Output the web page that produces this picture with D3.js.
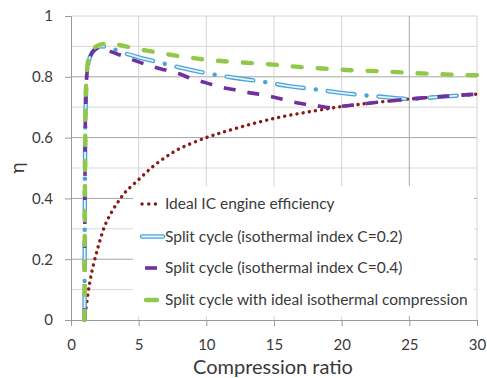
<!DOCTYPE html>
<html>
<head>
<meta charset="utf-8">
<script src="https://cdn.jsdelivr.net/npm/d3@7"></script>
<style>
  html, body { margin: 0; padding: 0; background: #fff; }
  svg { display: block; }
  text { font-family: Lato, "Open Sans", sans-serif; fill: #3a3a3a; }
</style>
</head>
<body>
<svg id="chart" width="487" height="378"></svg>
<script>
// Efficiency vs compression ratio
const xTicks = [0, 5, 10, 15, 20, 25, 30];
const yTicks = [0, 0.2, 0.4, 0.6, 0.8, 1];
const yMinor = [0.1, 0.3, 0.5, 0.7, 0.9];

const icRatio = [1, 1.25, 1.5, 2, 2.5, 3, 3.5, 4, 5, 6, 7, 8, 10, 12, 15, 18, 20, 22, 25, 28, 30];
const icEff   = [0, 0.085, 0.15, 0.24, 0.31, 0.355, 0.39, 0.42, 0.462, 0.503, 0.536, 0.563, 0.60, 0.628, 0.663, 0.688, 0.702, 0.713, 0.727, 0.737, 0.743];

const c02Ratio = [1, 1.03, 1.08, 1.2, 1.4, 1.7, 2.2, 3, 4, 5, 6, 7, 8, 9, 10, 12, 14, 16, 18, 20, 22, 24, 25, 27, 30];
const c02Eff   = [0, 0.45, 0.7, 0.82, 0.865, 0.888, 0.9, 0.893, 0.877, 0.864, 0.853, 0.842, 0.831, 0.821, 0.812, 0.797, 0.785, 0.77, 0.759, 0.747, 0.738, 0.73, 0.727, 0.733, 0.743];

const c04Ratio = [1, 1.03, 1.08, 1.2, 1.4, 1.7, 2.1, 3, 4, 5, 6, 7, 8, 9, 10, 11, 12, 13, 14, 15, 16, 17, 18, 19.2, 20, 22, 25, 28, 30];
const c04Eff   = [0, 0.45, 0.7, 0.82, 0.865, 0.887, 0.895, 0.882, 0.865, 0.849, 0.834, 0.822, 0.81, 0.792, 0.78, 0.767, 0.758, 0.749, 0.742, 0.733, 0.722, 0.712, 0.706, 0.699, 0.703, 0.713, 0.727, 0.737, 0.743];

const isoRatio = [1, 1.03, 1.08, 1.15, 1.3, 1.6, 2, 2.75, 3.5, 5, 6.5, 8, 10, 12, 15, 17, 19, 21, 23, 25, 27, 29, 30];
const isoEff   = [0, 0.45, 0.7, 0.8, 0.86, 0.89, 0.903, 0.91, 0.905, 0.891, 0.879, 0.868, 0.856, 0.849, 0.84, 0.832, 0.826, 0.821, 0.818, 0.813, 0.809, 0.806, 0.805];

const seriesNames = [
  "Ideal IC engine efficiency",
  "Split cycle (isothermal index C=0.2)",
  "Split cycle (isothermal index C=0.4)",
  "Split cycle with ideal isothermal compression"
];

const svg = d3.select("#chart");
const m = { left: 71, right: 477, top: 16, bottom: 320 };

const x = d3.scaleLinear().domain([0, 30]).range([m.left, m.right]);
const y = d3.scaleLinear().domain([0, 1]).range([m.bottom, m.top]);

// gridlines
const grid = svg.append("g");
grid.selectAll(".minor").data(yMinor).join("line")
  .attr("x1", m.left).attr("x2", m.right)
  .attr("y1", d => y(d)).attr("y2", d => y(d))
  .attr("stroke", "#d9d9d9").attr("stroke-width", 1);
grid.selectAll(".major").data(yTicks.filter(d => d > 0 && d < 1)).join("line")
  .attr("x1", m.left).attr("x2", m.right)
  .attr("y1", d => y(d)).attr("y2", d => y(d))
  .attr("stroke", "#a6a6a6").attr("stroke-width", 1);
grid.append("line")
  .attr("x1", m.left).attr("x2", m.right)
  .attr("y1", y(1)).attr("y2", y(1))
  .attr("stroke", "#d4d4d4");
grid.selectAll(".vx").data(xTicks.filter(d => d > 0)).join("line")
  .attr("x1", d => x(d)).attr("x2", d => x(d))
  .attr("y1", m.top).attr("y2", m.bottom)
  .attr("stroke", d => d === 25 ? "#a6a6a6" : "#d4d4d4");

// axes
const xAxis = d3.axisBottom(x).tickValues(xTicks).tickSize(6).tickPadding(13).tickFormat(d3.format("d"));
const gx = svg.append("g").attr("transform", `translate(0,${m.bottom})`).call(xAxis);
gx.select(".domain").attr("stroke", "#9a9a9a");
gx.selectAll(".tick line").attr("stroke", "#9a9a9a");
gx.selectAll("text").style("font-size", "15px").attr("fill", "#3a3a3a");

const yAxis = d3.axisLeft(y).tickValues(yTicks).tickSize(6).tickPadding(12)
  .tickFormat(d => d === 0 ? "0" : d === 1 ? "1" : d3.format(".1f")(d));
const gy = svg.append("g").attr("transform", `translate(${m.left},0)`).call(yAxis);
gy.select(".domain").attr("stroke", "#9a9a9a");
gy.selectAll(".tick line").attr("stroke", "#9a9a9a");
gy.selectAll("text").style("font-size", "15px").attr("fill", "#3a3a3a");

// titles
svg.append("text").attr("x", (m.left + m.right) / 2 - 1).attr("y", 374)
  .attr("text-anchor", "middle").style("font-size", "20px").text("Compression ratio");
svg.append("text").attr("transform", "translate(24,168) rotate(-90)")
  .attr("text-anchor", "middle").style("font-size", "19px").text("η");

// series
const line = d3.line().x(d => x(d[0])).y(d => y(d[1])).curve(d3.curveCatmullRom.alpha(0.5));
const zip = (a, b) => a.map((v, i) => [v, b[i]]);

const plot = svg.append("g");
plot.append("path").datum(zip(icRatio, icEff)).attr("d", line)
  .attr("fill", "none").attr("stroke", "#8b1a14").attr("stroke-width", 3.4)
  .attr("stroke-linecap", "round").attr("stroke-dasharray", "0.1 6.1");

const c02 = zip(c02Ratio, c02Eff);
plot.append("path").datum(c02).attr("d", line)
  .attr("fill", "none").attr("stroke", "#4aa3d8").attr("stroke-width", 4.4)
  .attr("stroke-linecap", "round").attr("stroke-dasharray", "27 12 0.1 12");
plot.append("path").datum(c02).attr("d", line)
  .attr("fill", "none").attr("stroke", "#e4f4fc").attr("stroke-width", 1.8)
  .attr("stroke-linecap", "round").attr("stroke-dasharray", "27 24.1");

plot.append("path").datum(zip(c04Ratio, c04Eff)).attr("d", line)
  .attr("fill", "none").attr("stroke", "#7030a0").attr("stroke-width", 3.6)
  .attr("stroke-dasharray", "12 12");

plot.append("path").datum(zip(isoRatio, isoEff)).attr("d", line)
  .attr("fill", "none").attr("stroke", "#92c84a").attr("stroke-width", 4.4)
  .attr("stroke-linecap", "round").attr("stroke-dasharray", "9 16");

// legend
const lg = svg.append("g");
lg.append("rect").attr("x", 133).attr("y", 186).attr("width", 341).attr("height", 130).attr("fill", "#fff");
const rowsY = [204, 236.5, 268, 300];
const sx0 = 142, sx1 = 163;
rowsY.forEach((ry, i) => {
  const seg = lg.append("g");
  if (i === 0) {
    seg.append("line").attr("x1", sx0).attr("x2", sx1 - 1).attr("y1", ry).attr("y2", ry)
      .attr("stroke", "#8b1a14").attr("stroke-width", 3.4).attr("stroke-linecap", "round")
      .attr("stroke-dasharray", "0.1 6.6");
  } else if (i === 1) {
    seg.append("line").attr("x1", sx0).attr("x2", sx1).attr("y1", ry).attr("y2", ry)
      .attr("stroke", "#4aa3d8").attr("stroke-width", 4.4).attr("stroke-linecap", "round");
    seg.append("line").attr("x1", sx0).attr("x2", sx1).attr("y1", ry).attr("y2", ry)
      .attr("stroke", "#e4f4fc").attr("stroke-width", 1.8).attr("stroke-linecap", "round");
  } else if (i === 2) {
    seg.append("line").attr("x1", 145).attr("x2", 157).attr("y1", ry).attr("y2", ry)
      .attr("stroke", "#7030a0").attr("stroke-width", 3.6);
  } else {
    seg.append("line").attr("x1", 146).attr("x2", 157).attr("y1", ry).attr("y2", ry)
      .attr("stroke", "#92c84a").attr("stroke-width", 4.4).attr("stroke-linecap", "round");
  }
  lg.append("text").attr("x", 165).attr("y", ry).attr("dy", "0.35em")
    .style("font-size", "15.5px").text(seriesNames[i]);
});
</script>
</body>
</html>
